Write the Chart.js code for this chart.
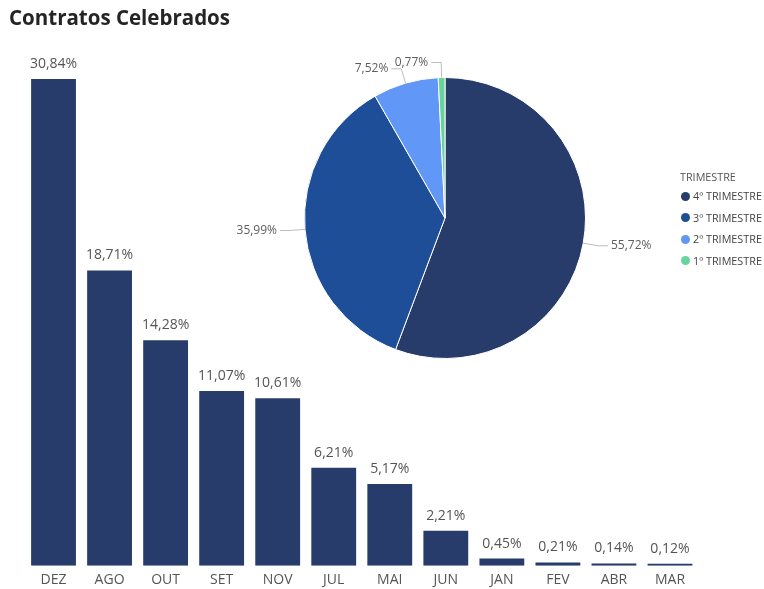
<!DOCTYPE html>
<html>
<head>
<meta charset="utf-8">
<script src="https://cdn.jsdelivr.net/npm/chart.js@4/dist/chart.umd.min.js"></script>
<style>
  html, body { margin:0; padding:0; background:#fff; width:764px; height:589px; overflow:hidden; }
  #wrap { position:relative; width:764px; height:589px; }
  #title { position:absolute; left:9px; top:3px; font:bold 20.5px "Open Sans", sans-serif; color:#252423; }
  canvas { position:absolute; left:0; top:0; }
  #legend { position:absolute; left:680px; top:168px; font:10.8px "Open Sans", sans-serif; color:#444; }
  #legend .t { height:17px; line-height:17px; color:#555; }
  #legend .it { height:21.5px; line-height:21.5px; position:relative; padding-left:13px; margin-left:0; }
  #legend .dot { position:absolute; left:1px; top:6.5px; width:9px; height:9px; border-radius:50%; }
</style>
</head>
<body>
<div id="wrap">
  <canvas id="bars" width="764" height="600"></canvas>
  <canvas id="pie" width="764" height="589"></canvas>
  <div id="title">Contratos Celebrados</div>
  <div id="legend"></div>
</div>
<script>
const months = ['DEZ','AGO','OUT','SET','NOV','JUL','MAI','JUN','JAN','FEV','ABR','MAR'];
const monthShares = [30.84, 18.71, 14.28, 11.07, 10.61, 6.21, 5.17, 2.21, 0.45, 0.21, 0.14, 0.12];
const quarters = ['4º TRIMESTRE','3º TRIMESTRE','2º TRIMESTRE','1º TRIMESTRE'];
const quarterShares = [55.72, 35.99, 7.52, 0.77];
const legendTitle = 'TRIMESTRE';

const barColor = '#283c6b';
const quarterColors = ['#283c6b', '#1f4e98', '#6197f7', '#66d49c'];

const fmt = v => v.toFixed(2).replace('.', ',') + '%';

const barLabels = {
  id: 'barLabels',
  afterDatasetsDraw(chart) {
    const ctx = chart.ctx;
    const meta = chart.getDatasetMeta(0);
    ctx.save();
    ctx.font = '14px "Open Sans", sans-serif';
    ctx.fillStyle = '#555';
    ctx.textAlign = 'center';
    ctx.textBaseline = 'alphabetic';
    meta.data.forEach((bar, i) => {
      ctx.fillText(fmt(chart.data.datasets[0].data[i]), bar.x, bar.y - 11);
    });
    ctx.restore();
  }
};

new Chart(document.getElementById('bars'), {
  type: 'bar',
  data: {
    labels: months,
    datasets: [{ data: monthShares, backgroundColor: barColor, borderWidth: 0 }]
  },
  options: {
    responsive: false,
    devicePixelRatio: 1,
    animation: false,
    layout: { padding: { top: 79, left: 25.5, right: 66, bottom: 5.5 } },
    plugins: { legend: { display: false }, tooltip: { enabled: false } },
    scales: {
      x: {
        grid: { display: false, drawTicks: false, tickLength: 0 },
        border: { display: false },
        ticks: { padding: 6, color: '#555', font: { family: 'Open Sans', size: 14 } }
      },
      y: { display: false, min: 0, max: 30.84 }
    },
    datasets: { bar: { barPercentage: 0.8, categoryPercentage: 1 } }
  },
  plugins: [barLabels]
});

const pieLabels = {
  id: 'pieLabels',
  afterDatasetsDraw(chart) {
    const ctx = chart.ctx;
    const meta = chart.getDatasetMeta(0);
    ctx.save();
    ctx.font = '12px "Open Sans", sans-serif';
    ctx.textBaseline = 'middle';
    meta.data.forEach((arc, i) => {
      const mid = (arc.startAngle + arc.endAngle) / 2;
      const r = arc.outerRadius;
      const c = Math.cos(mid), s = Math.sin(mid);
      const x0 = arc.x + c * r, y0 = arc.y + s * r;
      const x1 = arc.x + c * (r + 15), y1 = arc.y + s * (r + 15);
      const dir = c >= 0 ? 1 : -1;
      const x2 = x1 + dir * 10;
      ctx.strokeStyle = '#bdbdbd';
      ctx.lineWidth = 1;
      ctx.beginPath();
      ctx.moveTo(x0, y0); ctx.lineTo(x1, y1); ctx.lineTo(x2, y1);
      ctx.stroke();
      ctx.fillStyle = '#605e5c';
      ctx.textAlign = dir > 0 ? 'left' : 'right';
      ctx.fillText(fmt(chart.data.datasets[0].data[i]), x2 + dir * 3, y1);
    });
    ctx.restore();
  }
};

new Chart(document.getElementById('pie'), {
  type: 'pie',
  data: {
    labels: quarters,
    datasets: [{ data: quarterShares, backgroundColor: quarterColors, borderColor: '#ffffff', borderWidth: 1 }]
  },
  options: {
    responsive: false,
    devicePixelRatio: 1,
    animation: false,
    layout: { padding: { left: 304, right: 178, top: 77, bottom: 230 } },
    plugins: { legend: { display: false }, tooltip: { enabled: false } }
  },
  plugins: [pieLabels]
});

const leg = document.getElementById('legend');
const t = document.createElement('div');
t.className = 't'; t.textContent = legendTitle; leg.appendChild(t);
quarters.forEach((q, i) => {
  const d = document.createElement('div');
  d.className = 'it';
  const dot = document.createElement('span');
  dot.className = 'dot'; dot.style.background = quarterColors[i];
  d.appendChild(dot);
  d.appendChild(document.createTextNode(q));
  leg.appendChild(d);
});
</script>
</body>
</html>
